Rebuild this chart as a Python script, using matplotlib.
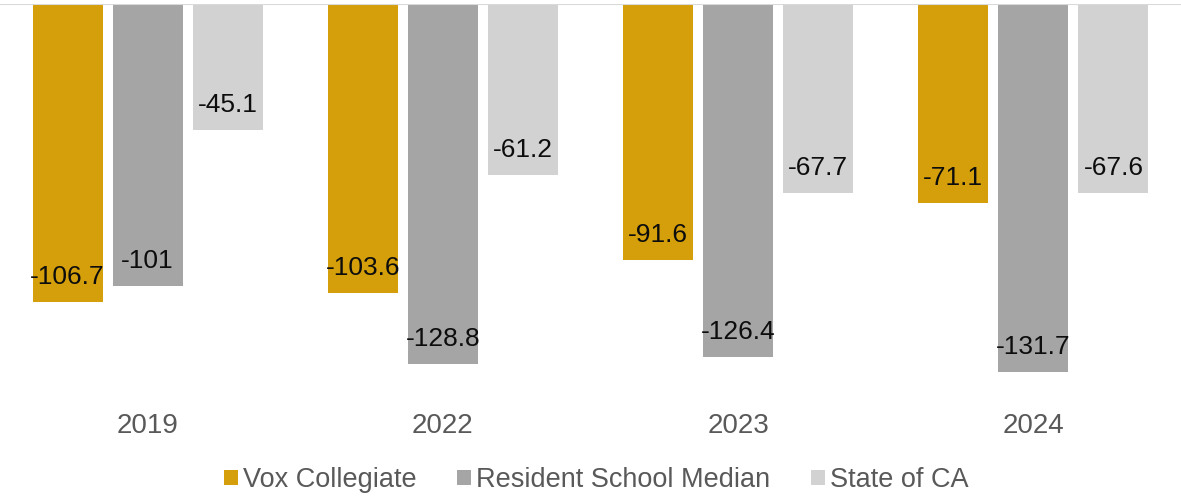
import numpy as np
import matplotlib
matplotlib.use("Agg")
import matplotlib.pyplot as plt

plt.rcParams['font.family'] = ['Liberation Sans', 'DejaVu Sans']

years = ["2019", "2022", "2023", "2024"]
series_names = ["Vox Collegiate", "Resident School Median", "State of CA"]
vox = [-106.7, -103.6, -91.6, -71.1]
resident = [-101, -128.8, -126.4, -131.7]
state_ca = [-45.1, -61.2, -67.7, -67.6]
colors = ["#D49F0A", "#A5A5A5", "#D2D2D2"]

fig = plt.figure(figsize=(11.81, 4.98), dpi=100)
ax = fig.add_axes([0, 0.207, 1, 0.785])

x = np.arange(len(years))
width = 0.237
pitch = 0.271
for i, (vals, name, col) in enumerate(zip([vox, resident, state_ca], series_names, colors)):
    pos = x + (i - 1) * pitch
    bars = ax.bar(pos, vals, width, color=col, label=name, zorder=2)
    for b, v in zip(bars, vals):
        ax.annotate(f"{v:g}", (b.get_x() + b.get_width() / 2, v), xytext=(0, 18),
                    textcoords="offset points", ha="center", va="center",
                    fontsize=19, color="#0D0D0D", zorder=3)

ax.set_xlim(-0.5, 3.5)
ax.set_ylim(-140, 0)
ax.axhline(0, color="#D9D9D9", lw=1.5, zorder=3)
for s in ax.spines.values():
    s.set_visible(False)
ax.set_yticks([])
ax.set_xticks(x)
ax.set_xticklabels(years, fontsize=20, color="#595959")
ax.tick_params(axis="x", length=0, pad=13)

fig.legend(loc="center", bbox_to_anchor=(0.505, 0.036), ncol=3, frameon=False,
           fontsize=19.5, labelcolor="#595959", handlelength=0.5, handleheight=0.5,
           handletextpad=0.2, columnspacing=1.5)

fig.savefig("out.png", dpi=100)
